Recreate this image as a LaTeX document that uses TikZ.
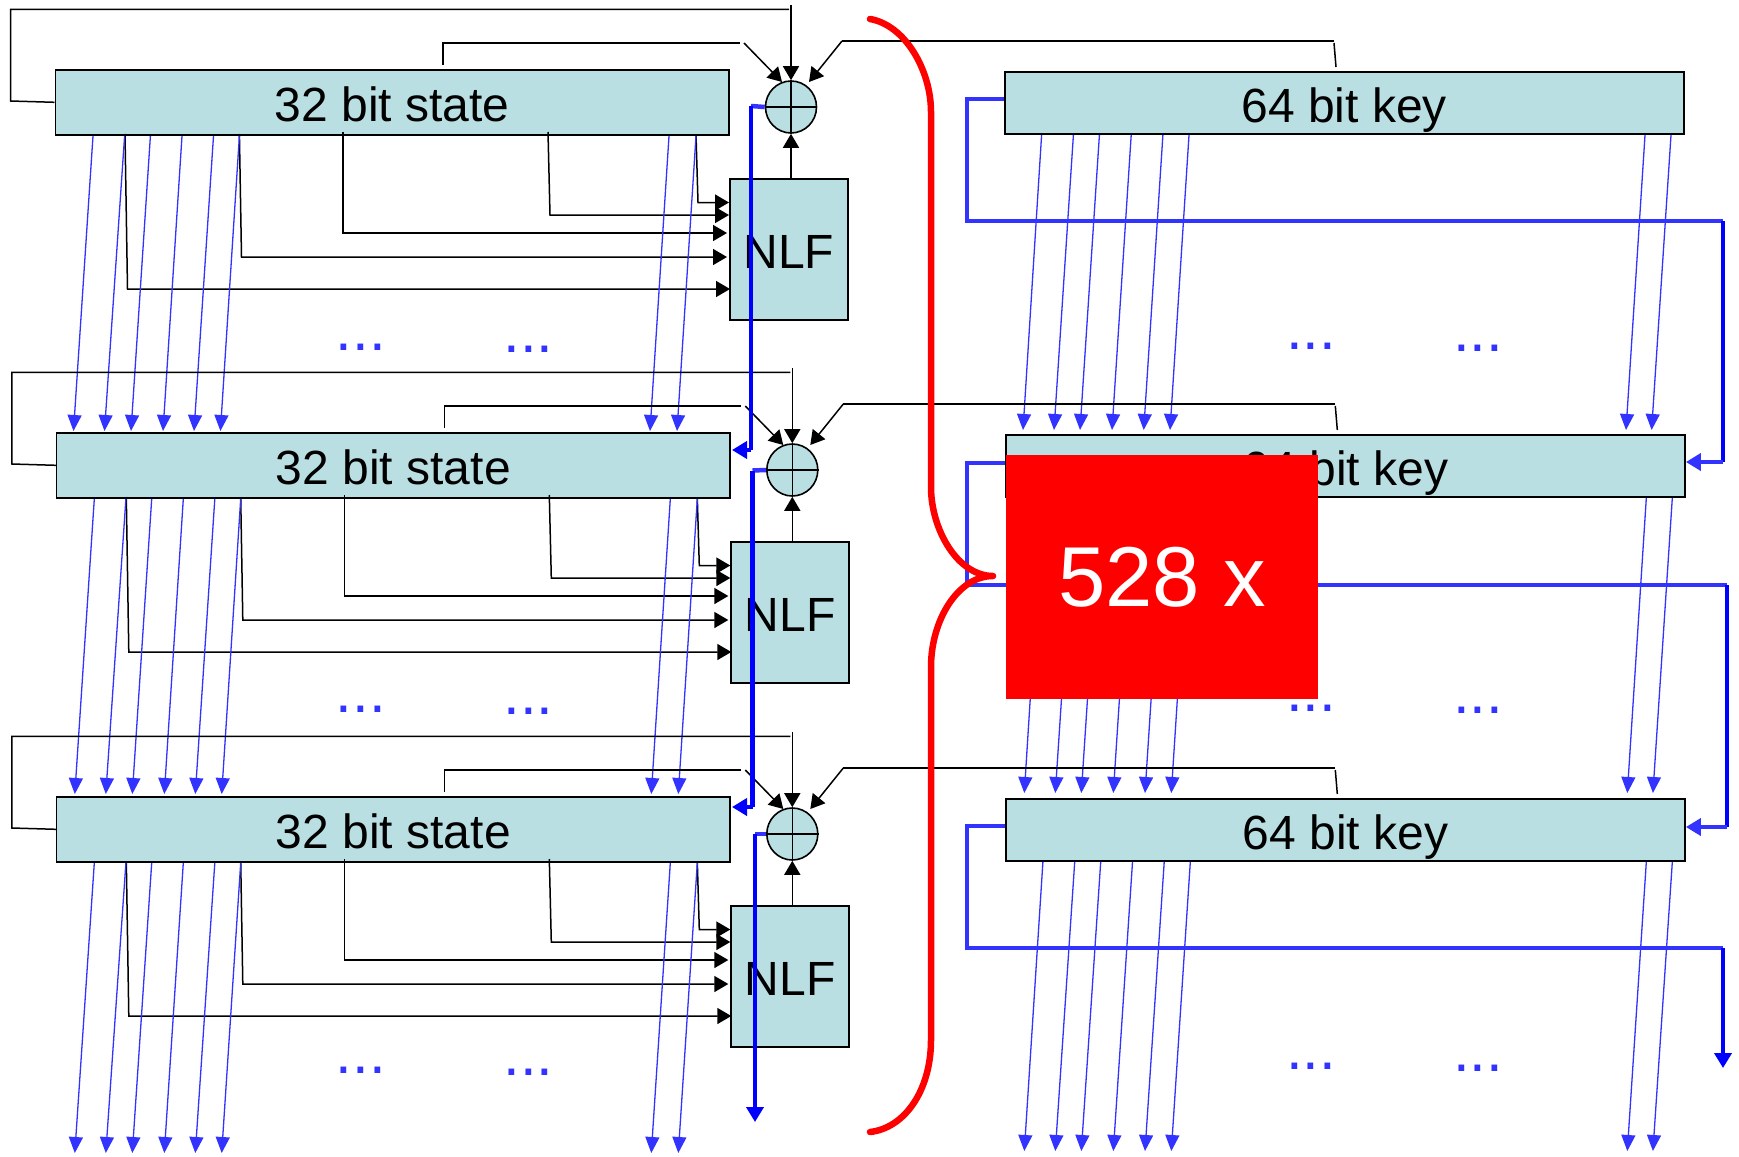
\documentclass[tikz,border=0pt]{standalone}
\usepackage{fontspec}
\setmainfont{Liberation Sans}
\usetikzlibrary{arrows.meta,shapes.geometric}
\definecolor{boxfill}{HTML}{B9DFE3}
\definecolor{wireblue}{HTML}{3333FF}
\definecolor{pureblue}{HTML}{0000FF}
\tikzset{
  x=1pt,y=-1pt,
  box/.style={draw=black,line width=1.6pt,fill=boxfill,inner sep=0pt,anchor=north west,
    font=\fontsize{48}{50}\selectfont,text height=35pt,text depth=0pt},
  xorbox/.style={draw=black,line width=1.6pt,fill=boxfill,ellipse,inner sep=0pt,
    minimum width=51pt,minimum height=52pt},
  wire/.style={draw=black,line width=1.5pt},
  wirearrow/.style={wire,-{Triangle[length=14pt,width=16pt]}},
  thinarrow/.style={draw=wireblue,line width=1.3pt,-{Triangle[length=16pt,width=14pt]}},
  thickline/.style={draw=wireblue,line width=4.5pt},
  thickpure/.style={draw=pureblue,line width=4.5pt},
  bigtip/.style={-{Triangle[length=15pt,width=17pt]}},
  dotslabel/.style={text=wireblue,anchor=base,font=\fontsize{60}{60}\selectfont,inner sep=0pt},
  bracecurve/.style={draw=red,line width=6.5pt,line join=round,line cap=round},
}
\begin{document}
\begin{tikzpicture}
\useasboundingbox (0,0) rectangle (1739,1156);
\fill[white] (0,0) rectangle (1739,1156);
\foreach \r/\dx/\dy/\es/\ek/\ds/\dk in {1/0/0/431/430/0/0, 2/1.3/363/431/430/362/362, 3/1.3/727/426/424/723/720}{
\begin{scope}[shift={(\dx,\dy)}]
  \node[box,minimum width=673.5pt,minimum height=65pt] (state\r) at (54.5,69) {\raisebox{-2pt}{32 bit state}};
  \node[box,minimum width=118pt,minimum height=141pt] (nlf\r) at (729,178) {\raisebox{-1.5pt}{NLF}};
  \node[xorbox] (xor\r) at (791,107) {};
  \node[box,minimum width=679pt,minimum height=62pt] (key\r) at (1004,71) {\raisebox{-2pt}{64 bit key}};
  \draw[wire] (xor\r.north) -- (xor\r.south) (xor\r.west) -- (xor\r.east);
  % feedback from the state to the adder
  \coordinate (la\r) at (10.5,101);
  \coordinate (lb\r) at (10.5,9.3);
  \coordinate (lc\r) at (789,9.3);
  \coordinate (ld\r) at (791,5);
  \draw[wire] (state\r.west) -- (la\r) -- (lb\r) -- (lc\r);
  \draw[wirearrow] (ld\r) -- (xor\r.north);
  \coordinate (ta\r) at (443,65);
  \coordinate (tb\r) at (443,43);
  \coordinate (tc\r) at (740,43);
  \coordinate (td\r) at (744,43);
  \coordinate (te\r) at (782,82);
  \draw[wire] (ta\r) -- (tb\r) -- (tc\r);
  \draw[wirearrow] (td\r) -- (te\r);
  \coordinate (ka\r) at (1336,67);
  \coordinate (kb\r) at (1334,43);
  \coordinate (kc\r) at (1334,41);
  \coordinate (kd\r) at (842,41);
  \coordinate (ke\r) at (809,82);
  \draw[wire] (ka\r) -- (kb\r);
  \draw[wire] (kc\r) -- (kd\r);
  \draw[wirearrow] (kd\r) -- (ke\r);
  \draw[wirearrow] (nlf\r.north -| xor\r.south) -- (xor\r.south);
  % state to NLF
  \foreach \i/\xa/\xb/\ya/\yb/\xe in {1/125/127.5/134/289/730, 2/239.4/241.5/134/257/727, 3/343/343/132/233/727, 4/548/550/132/215/729, 5/696/698/135/202.5/729}{
    \coordinate (na\r\i) at (\xa,\ya);
    \coordinate (nb\r\i) at (\xb,\yb);
    \coordinate (nc\r\i) at (\xe,\yb);
    \draw[wirearrow] (na\r\i) -- (nb\r\i) -- (nc\r\i);
  }
  % thin blue state arrows
  \foreach \i/\xa/\xb in {1/93/73.5, 2/124.6/104.5, 3/150.4/131, 4/182/163, 5/213.5/194, 6/239.4/220.4, 7/669/650, 8/696/677}{
    \coordinate (sa\r\i) at (\xa,136);
    \coordinate (sb\r\i) at (\xb,\es);
    \draw[thinarrow] (sa\r\i) -- (sb\r\i);
  }
  % thin blue key arrows
  \foreach \i/\xa/\xb in {1/1041.6/1023, 2/1073.4/1054, 3/1099.4/1080, 4/1131.2/1112, 5/1162.9/1143.7, 6/1189/1170, 7/1645/1626, 8/1671/1651.6}{
    \coordinate (ga\r\i) at (\xa,135);
    \coordinate (gb\r\i) at (\xb,\ek);
    \draw[thinarrow] (ga\r\i) -- (gb\r\i);
  }
\end{scope}
\node[dotslabel] (sd\r a) at (361,350+\ds) {...};
\node[dotslabel] (sd\r b) at (528.5,352+\ds) {...};
\node[dotslabel] (kd\r a) at (1311,349+\dk) {...};
\node[dotslabel] (kd\r b) at (1478,351+\dk) {...};
}
% thick blue shift paths: state
\coordinate (p1a) at (751,106);
\coordinate (p1b) at (751,450);
\coordinate (p1c) at (732,450);
\draw[thickline] (xor1.west) -- (p1a);
\draw[thickpure] (p1a) -- (p1b);
\draw[thickpure,bigtip] (p1b) -- (p1c);
\coordinate (p2a) at (752.5,470.5);
\coordinate (p2b) at (752.5,807);
\coordinate (p2c) at (732,807);
\draw[thickline] (xor2.west) -- (p2a);
\draw[thickpure] (p2a) -- (p2b);
\draw[thickpure,bigtip] (p2b) -- (p2c);
\coordinate (p3a) at (755,834);
\coordinate (p3b) at (755,1122);
\draw[thickline] (xor3.west) -- (p3a);
\draw[thickpure,bigtip] (p3a) -- (p3b);
% thick blue shift paths: key
\coordinate (q1a) at (967,99);
\coordinate (q1b) at (967,221);
\coordinate (q1c) at (1723,221);
\coordinate (q1d) at (1723,462);
\coordinate (q1e) at (key2.east |- q1d);
\draw[thickline] (key1.west |- q1a) -- (q1a) -- (q1b) -- (q1c);
\draw[thickpure] (q1c) -- (q1d);
\draw[thickline,bigtip] (q1d) -- (q1e);
\coordinate (q2a) at (967,463);
\coordinate (q2b) at (967,585);
\coordinate (q2c) at (1727,585);
\coordinate (q2d) at (1727,827);
\coordinate (q2e) at (key3.east |- q2d);
\draw[thickline] (key2.west |- q2a) -- (q2a) -- (q2b) -- (q2c);
\draw[thickpure] (q2c) -- (q2d);
\draw[thickline,bigtip] (q2d) -- (q2e);
\coordinate (q3a) at (967,826);
\coordinate (q3b) at (967,948);
\coordinate (q3c) at (1723,948);
\coordinate (q3d) at (1723,1068);
\draw[thickline] (key3.west |- q3a) -- (q3a) -- (q3b) -- (q3c);
\draw[thickpure,bigtip] (q3c) -- (q3d);
% red brace and count
\draw[bracecurve] (870,19) .. controls (905,25) and (931,70) .. (931,112) -- (931,487)
   .. controls (931,530) and (958,576) .. (993,576)
   .. controls (958,576) and (931,620) .. (931,667) -- (931,1040)
   .. controls (931,1090) and (905,1128) .. (870,1132);
\node[fill=red,text=white,inner sep=0pt,minimum width=312pt,minimum height=244pt,
  font=\fontsize{85}{88}\selectfont] (count) at (1162,577) {\raisebox{-4pt}{528 x}};
\end{tikzpicture}
\end{document}
